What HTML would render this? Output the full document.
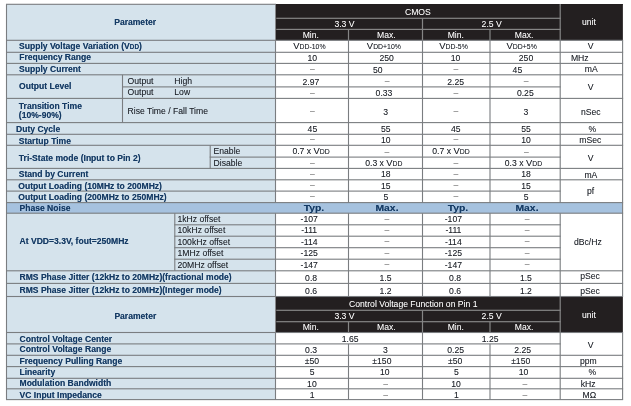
<!DOCTYPE html>
<html><head><meta charset="utf-8"><title>Spec table</title>
<style>
html,body{margin:0;padding:0;background:#fff;}
body{width:631px;height:406px;position:relative;overflow:hidden;font-family:"Liberation Sans",sans-serif;font-size:8.63px;color:#1f232a;text-shadow:0 0 0.5px rgba(30,34,42,0.38);}
.r{position:absolute;}
#tx{position:absolute;left:0;top:0;width:631px;height:406px;will-change:transform;}
.t{position:absolute;height:12px;line-height:12px;white-space:nowrap;}
.t span{line-height:1px;}
.c{text-align:center;width:240px;}
.b{font-weight:bold;font-size:8.57px;color:#143a64;text-shadow:0 0 0.6px rgba(20,58,100,0.55);}
.w{color:#fff;text-shadow:0 0 0.5px rgba(255,255,255,0.25);}
.d{color:#6e6e6e;text-shadow:none;}
.v{font-size:9.4px;}
.s{font-size:6.9px;}
.s2{font-size:6.4px;}
.big{font-size:9.6px;transform:scaleX(1.08);}
</style></head><body>
<svg class="r" style="left:0;top:0" width="631" height="406" viewBox="0 0 631 406">
<rect x="6.50" y="4.30" width="269.00" height="395.30" fill="#d5e3ec"/>
<rect x="275.50" y="4.00" width="347.10" height="36.30" fill="#231f20"/>
<rect x="275.50" y="296.50" width="347.10" height="36.00" fill="#231f20"/>
<rect x="6.50" y="202.60" width="616.10" height="10.60" fill="#a6c2df"/>
<rect x="276.30" y="17.70" width="284.40" height="1.2" fill="#858585"/>
<rect x="276.30" y="28.80" width="284.40" height="1.2" fill="#858585"/>
<rect x="559.60" y="4.30" width="1.2" height="36.00" fill="#858585"/>
<rect x="421.90" y="18.30" width="1.2" height="22.00" fill="#858585"/>
<rect x="347.90" y="29.40" width="1.2" height="10.90" fill="#858585"/>
<rect x="489.40" y="29.40" width="1.2" height="10.90" fill="#858585"/>
<rect x="276.30" y="309.70" width="284.40" height="1.2" fill="#858585"/>
<rect x="276.30" y="321.10" width="284.40" height="1.2" fill="#858585"/>
<rect x="559.60" y="296.50" width="1.2" height="36.00" fill="#858585"/>
<rect x="421.90" y="310.30" width="1.2" height="22.20" fill="#858585"/>
<rect x="347.90" y="321.70" width="1.2" height="10.80" fill="#858585"/>
<rect x="489.40" y="321.70" width="1.2" height="10.80" fill="#858585"/>
<rect x="6.00" y="3.75" width="270.00" height="1.1" fill="#7a7d80"/>
<rect x="6.00" y="399.05" width="617.10" height="1.1" fill="#7a7d80"/>
<rect x="5.95" y="4.30" width="1.1" height="395.30" fill="#7a7d80"/>
<rect x="622.05" y="40.30" width="1.1" height="256.20" fill="#7a7d80"/>
<rect x="622.05" y="332.50" width="1.1" height="67.10" fill="#7a7d80"/>
<rect x="274.95" y="40.30" width="1.1" height="162.30" fill="#7a7d80"/>
<rect x="274.95" y="213.20" width="1.1" height="83.30" fill="#7a7d80"/>
<rect x="274.95" y="332.50" width="1.1" height="67.10" fill="#7a7d80"/>
<rect x="6.00" y="39.75" width="617.10" height="1.1" fill="#7a7d80"/>
<rect x="6.00" y="51.75" width="617.10" height="1.1" fill="#7a7d80"/>
<rect x="6.00" y="62.85" width="617.10" height="1.1" fill="#7a7d80"/>
<rect x="6.00" y="74.25" width="617.10" height="1.1" fill="#7a7d80"/>
<rect x="6.00" y="97.85" width="617.10" height="1.1" fill="#7a7d80"/>
<rect x="6.00" y="122.05" width="617.10" height="1.1" fill="#7a7d80"/>
<rect x="6.00" y="133.75" width="617.10" height="1.1" fill="#7a7d80"/>
<rect x="6.00" y="144.75" width="617.10" height="1.1" fill="#7a7d80"/>
<rect x="6.00" y="167.85" width="617.10" height="1.1" fill="#7a7d80"/>
<rect x="6.00" y="179.25" width="617.10" height="1.1" fill="#7a7d80"/>
<rect x="6.00" y="202.05" width="617.10" height="1.1" fill="#7a7d80"/>
<rect x="6.00" y="212.65" width="617.10" height="1.1" fill="#7a7d80"/>
<rect x="6.00" y="270.25" width="617.10" height="1.1" fill="#7a7d80"/>
<rect x="6.00" y="282.85" width="617.10" height="1.1" fill="#7a7d80"/>
<rect x="6.00" y="295.95" width="617.10" height="1.1" fill="#7a7d80"/>
<rect x="6.00" y="331.95" width="617.10" height="1.1" fill="#7a7d80"/>
<rect x="6.00" y="354.75" width="617.10" height="1.1" fill="#7a7d80"/>
<rect x="6.00" y="366.05" width="617.10" height="1.1" fill="#7a7d80"/>
<rect x="6.00" y="377.75" width="617.10" height="1.1" fill="#7a7d80"/>
<rect x="6.00" y="388.25" width="617.10" height="1.1" fill="#7a7d80"/>
<rect x="122.00" y="86.35" width="438.70" height="1.1" fill="#7a7d80"/>
<rect x="209.70" y="156.55" width="351.00" height="1.1" fill="#7a7d80"/>
<rect x="6.00" y="190.55" width="554.70" height="1.1" fill="#7a7d80"/>
<rect x="174.30" y="224.25" width="386.40" height="1.1" fill="#7a7d80"/>
<rect x="174.30" y="235.65" width="386.40" height="1.1" fill="#7a7d80"/>
<rect x="174.30" y="247.15" width="386.40" height="1.1" fill="#7a7d80"/>
<rect x="174.30" y="258.65" width="386.40" height="1.1" fill="#7a7d80"/>
<rect x="6.00" y="343.35" width="554.70" height="1.1" fill="#7a7d80"/>
<rect x="347.95" y="40.30" width="1.1" height="162.30" fill="#7a7d80"/>
<rect x="347.95" y="213.20" width="1.1" height="83.30" fill="#7a7d80"/>
<rect x="421.95" y="40.30" width="1.1" height="162.30" fill="#7a7d80"/>
<rect x="421.95" y="213.20" width="1.1" height="83.30" fill="#7a7d80"/>
<rect x="489.45" y="40.30" width="1.1" height="162.30" fill="#7a7d80"/>
<rect x="489.45" y="213.20" width="1.1" height="83.30" fill="#7a7d80"/>
<rect x="559.65" y="40.30" width="1.1" height="162.30" fill="#7a7d80"/>
<rect x="559.65" y="213.20" width="1.1" height="83.30" fill="#7a7d80"/>
<rect x="421.95" y="332.50" width="1.1" height="67.10" fill="#7a7d80"/>
<rect x="559.65" y="332.50" width="1.1" height="67.10" fill="#7a7d80"/>
<rect x="347.95" y="343.90" width="1.1" height="55.70" fill="#7a7d80"/>
<rect x="489.45" y="343.90" width="1.1" height="55.70" fill="#7a7d80"/>
<rect x="276.05" y="4.00" width="346.65" height="0.90" fill="#231f20"/>
<rect x="622.00" y="4.00" width="0.70" height="35.80" fill="#231f20"/>
<rect x="559.60" y="4.00" width="1.2" height="1.30" fill="#858585"/>
<rect x="622.00" y="297.00" width="0.70" height="35.00" fill="#231f20"/>
<rect x="121.95" y="74.80" width="1.1" height="47.80" fill="#7a7d80"/>
<rect x="209.65" y="145.30" width="1.1" height="23.10" fill="#7a7d80"/>
<rect x="174.25" y="213.20" width="1.1" height="57.60" fill="#7a7d80"/>
</svg>
<div id="tx">
<div class="t b" style="left:114.20px;top:16.01px">Parameter</div>
<div class="t c w" style="left:297.90px;top:6.01px">CMOS</div>
<div class="t c w" style="left:224.50px;top:18.01px">3.3 V</div>
<div class="t c w" style="left:371.70px;top:18.01px">2.5 V</div>
<div class="t c w" style="left:190.80px;top:29.01px">Min.</div>
<div class="t c w" style="left:266.40px;top:29.01px">Max.</div>
<div class="t c w" style="left:335.80px;top:29.01px">Min.</div>
<div class="t c w" style="left:404.20px;top:29.01px">Max.</div>
<div class="t c w" style="left:468.90px;top:16.01px">unit</div>
<div class="t b" style="left:19.10px;top:40.01px">Supply Voltage Variation (V<span class="s2">DD</span>)</div>
<div class="t c " style="left:189.40px;top:40.01px"><span class="v">V</span><span class="s">DD-10%</span></div>
<div class="t c " style="left:263.90px;top:40.01px"><span class="v">V</span><span class="s">DD+10%</span></div>
<div class="t c " style="left:333.60px;top:40.01px"><span class="v">V</span><span class="s">DD-5%</span></div>
<div class="t c " style="left:401.70px;top:40.01px"><span class="v">V</span><span class="s">DD+5%</span></div>
<div class="t c " style="left:470.70px;top:40.01px">V</div>
<div class="t b" style="left:19.20px;top:51.01px">Frequency Range</div>
<div class="t c " style="left:192.20px;top:52.01px">10</div>
<div class="t c " style="left:266.70px;top:52.01px">250</div>
<div class="t c " style="left:335.60px;top:52.01px">10</div>
<div class="t c " style="left:406.00px;top:52.01px">250</div>
<div class="t c " style="left:459.80px;top:52.01px">MHz</div>
<div class="t b" style="left:19.10px;top:63.01px">Supply Current</div>
<div class="t c d" style="left:192.50px;top:63.01px">&#8211;</div>
<div class="t c " style="left:257.80px;top:64.01px">50</div>
<div class="t c d" style="left:335.80px;top:63.01px">&#8211;</div>
<div class="t c " style="left:397.40px;top:64.01px">45</div>
<div class="t c " style="left:471.20px;top:63.01px">mA</div>
<div class="t b" style="left:19.10px;top:80.01px">Output Level</div>
<div class="t " style="left:127.50px;top:75.01px">Output</div>
<div class="t " style="left:174.30px;top:75.01px">High</div>
<div class="t " style="left:127.50px;top:86.01px">Output</div>
<div class="t " style="left:174.30px;top:86.01px">Low</div>
<div class="t c " style="left:190.90px;top:76.01px">2.97</div>
<div class="t c d" style="left:267.20px;top:75.01px">&#8211;</div>
<div class="t c " style="left:335.70px;top:76.01px">2.25</div>
<div class="t c d" style="left:406.20px;top:75.01px">&#8211;</div>
<div class="t c d" style="left:192.50px;top:87.01px">&#8211;</div>
<div class="t c " style="left:264.00px;top:87.01px">0.33</div>
<div class="t c d" style="left:335.80px;top:87.01px">&#8211;</div>
<div class="t c " style="left:405.30px;top:87.01px">0.25</div>
<div class="t c " style="left:470.70px;top:81.01px">V</div>
<div class="t b" style="left:18.80px;top:100.01px">Transition Time</div>
<div class="t b" style="left:18.80px;top:109.01px">(10%-90%)</div>
<div class="t " style="left:127.50px;top:105.01px">Rise Time / Fall Time</div>
<div class="t c d" style="left:192.30px;top:105.01px">&#8211;</div>
<div class="t c " style="left:265.70px;top:106.01px">3</div>
<div class="t c d" style="left:335.80px;top:105.01px">&#8211;</div>
<div class="t c " style="left:405.90px;top:106.01px">3</div>
<div class="t c " style="left:470.80px;top:106.01px">nSec</div>
<div class="t b" style="left:16.00px;top:123.01px">Duty Cycle</div>
<div class="t c " style="left:192.40px;top:123.01px">45</div>
<div class="t c " style="left:265.70px;top:123.01px">55</div>
<div class="t c " style="left:335.70px;top:123.01px">45</div>
<div class="t c " style="left:406.00px;top:123.01px">55</div>
<div class="t c " style="left:472.40px;top:123.01px">%</div>
<div class="t b" style="left:18.80px;top:135.01px">Startup Time</div>
<div class="t c d" style="left:192.30px;top:133.01px">&#8211;</div>
<div class="t c " style="left:265.70px;top:134.01px">10</div>
<div class="t c d" style="left:335.80px;top:133.01px">&#8211;</div>
<div class="t c " style="left:406.00px;top:134.01px">10</div>
<div class="t c " style="left:470.30px;top:134.01px">mSec</div>
<div class="t b" style="left:18.80px;top:152.01px">Tri-State mode (Input to Pin 2)</div>
<div class="t " style="left:213.50px;top:145.01px">Enable</div>
<div class="t " style="left:213.50px;top:157.01px">Disable</div>
<div class="t c " style="left:191.10px;top:145.01px">0.7 x <span class="v">V</span><span class="s">DD</span></div>
<div class="t c d" style="left:266.90px;top:146.01px">&#8211;</div>
<div class="t c " style="left:331.00px;top:145.01px">0.7 x <span class="v">V</span><span class="s">DD</span></div>
<div class="t c d" style="left:406.40px;top:146.01px">&#8211;</div>
<div class="t c d" style="left:192.30px;top:157.01px">&#8211;</div>
<div class="t c " style="left:263.90px;top:157.01px">0.3 x <span class="v">V</span><span class="s">DD</span></div>
<div class="t c d" style="left:335.80px;top:157.01px">&#8211;</div>
<div class="t c " style="left:403.50px;top:157.01px">0.3 x <span class="v">V</span><span class="s">DD</span></div>
<div class="t c " style="left:470.60px;top:152.01px">V</div>
<div class="t b" style="left:18.80px;top:168.01px">Stand by Current</div>
<div class="t c d" style="left:192.30px;top:168.01px">&#8211;</div>
<div class="t c " style="left:265.70px;top:168.01px">18</div>
<div class="t c d" style="left:335.80px;top:168.01px">&#8211;</div>
<div class="t c " style="left:406.00px;top:168.01px">18</div>
<div class="t c " style="left:470.90px;top:169.01px">mA</div>
<div class="t b" style="left:18.30px;top:180.01px">Output Loading (10MHz to 200MHz)</div>
<div class="t c d" style="left:192.30px;top:179.01px">&#8211;</div>
<div class="t c " style="left:265.70px;top:180.01px">15</div>
<div class="t c d" style="left:335.80px;top:179.01px">&#8211;</div>
<div class="t c " style="left:406.00px;top:180.01px">15</div>
<div class="t b" style="left:18.30px;top:191.01px">Output Loading (200MHz to 250MHz)</div>
<div class="t c d" style="left:192.30px;top:190.01px">&#8211;</div>
<div class="t c " style="left:265.90px;top:191.01px">5</div>
<div class="t c d" style="left:335.80px;top:190.01px">&#8211;</div>
<div class="t c " style="left:406.20px;top:191.01px">5</div>
<div class="t c " style="left:470.60px;top:185.01px">pf</div>
<div class="t b" style="left:19.50px;top:202.01px">Phase Noise</div>
<div class="t c b big" style="left:193.60px;top:201.67px">Typ.</div>
<div class="t c b big" style="left:266.80px;top:201.67px">Max.</div>
<div class="t c b big" style="left:337.60px;top:201.67px">Typ.</div>
<div class="t c b big" style="left:406.50px;top:201.67px">Max.</div>
<div class="t b" style="left:19.50px;top:235.01px">At VDD=3.3V, fout=250MHz</div>
<div class="t " style="left:177.50px;top:213.01px">1kHz offset</div>
<div class="t c " style="left:189.20px;top:213.01px">-107</div>
<div class="t c d" style="left:266.90px;top:213.01px">&#8211;</div>
<div class="t c " style="left:333.40px;top:213.01px">-107</div>
<div class="t c d" style="left:407.20px;top:213.01px">&#8211;</div>
<div class="t " style="left:177.50px;top:224.01px">10kHz offset</div>
<div class="t c " style="left:189.20px;top:224.01px">-111</div>
<div class="t c d" style="left:266.90px;top:224.01px">&#8211;</div>
<div class="t c " style="left:333.40px;top:224.01px">-111</div>
<div class="t c d" style="left:407.20px;top:224.01px">&#8211;</div>
<div class="t " style="left:177.50px;top:236.01px">100kHz offset</div>
<div class="t c " style="left:189.20px;top:236.01px">-114</div>
<div class="t c d" style="left:266.90px;top:235.01px">&#8211;</div>
<div class="t c " style="left:333.40px;top:236.01px">-114</div>
<div class="t c d" style="left:407.20px;top:235.01px">&#8211;</div>
<div class="t " style="left:177.50px;top:247.01px">1MHz offset</div>
<div class="t c " style="left:189.20px;top:247.01px">-125</div>
<div class="t c d" style="left:266.90px;top:247.01px">&#8211;</div>
<div class="t c " style="left:333.40px;top:247.01px">-125</div>
<div class="t c d" style="left:407.20px;top:247.01px">&#8211;</div>
<div class="t " style="left:177.50px;top:259.01px">20MHz offset</div>
<div class="t c " style="left:189.20px;top:259.01px">-147</div>
<div class="t c d" style="left:266.90px;top:258.01px">&#8211;</div>
<div class="t c " style="left:333.40px;top:259.01px">-147</div>
<div class="t c d" style="left:407.20px;top:258.01px">&#8211;</div>
<div class="t c " style="left:467.90px;top:236.01px">dBc/Hz</div>
<div class="t b" style="left:19.50px;top:271.01px">RMS Phase Jitter (12kHz to 20MHz)(fractional mode)</div>
<div class="t c " style="left:191.10px;top:272.01px">0.8</div>
<div class="t c " style="left:265.50px;top:272.01px">1.5</div>
<div class="t c " style="left:335.10px;top:272.01px">0.8</div>
<div class="t c " style="left:405.90px;top:272.01px">1.5</div>
<div class="t c " style="left:470.10px;top:270.01px">pSec</div>
<div class="t b" style="left:19.50px;top:284.01px">RMS Phase Jitter (12kHz to 20MHz)(Integer mode)</div>
<div class="t c " style="left:191.10px;top:285.01px">0.6</div>
<div class="t c " style="left:265.50px;top:285.01px">1.2</div>
<div class="t c " style="left:335.10px;top:285.01px">0.6</div>
<div class="t c " style="left:405.90px;top:285.01px">1.2</div>
<div class="t c " style="left:470.10px;top:285.01px">pSec</div>
<div class="t b" style="left:114.40px;top:310.01px">Parameter</div>
<div class="t c w" style="left:293.25px;top:298.01px">Control Voltage Function on Pin 1</div>
<div class="t c w" style="left:224.50px;top:310.01px">3.3 V</div>
<div class="t c w" style="left:371.70px;top:310.01px">2.5 V</div>
<div class="t c w" style="left:190.80px;top:321.01px">Min.</div>
<div class="t c w" style="left:266.40px;top:321.01px">Max.</div>
<div class="t c w" style="left:335.80px;top:321.01px">Min.</div>
<div class="t c w" style="left:404.20px;top:321.01px">Max.</div>
<div class="t c w" style="left:468.90px;top:309.01px">unit</div>
<div class="t b" style="left:19.50px;top:333.01px">Control Voltage Center</div>
<div class="t c " style="left:230.10px;top:333.01px">1.65</div>
<div class="t c " style="left:370.20px;top:333.01px">1.25</div>
<div class="t b" style="left:19.50px;top:343.01px">Control Voltage Range</div>
<div class="t c " style="left:191.10px;top:344.01px">0.3</div>
<div class="t c " style="left:265.40px;top:344.01px">3</div>
<div class="t c " style="left:335.70px;top:344.01px">0.25</div>
<div class="t c " style="left:402.70px;top:344.01px">2.25</div>
<div class="t c " style="left:470.70px;top:339.01px">V</div>
<div class="t b" style="left:19.50px;top:355.01px">Frequency Pulling Range</div>
<div class="t c " style="left:191.90px;top:355.01px">&#177;50</div>
<div class="t c " style="left:261.90px;top:355.01px">&#177;150</div>
<div class="t c " style="left:335.20px;top:355.01px">&#177;50</div>
<div class="t c " style="left:400.70px;top:355.01px">&#177;150</div>
<div class="t c " style="left:468.40px;top:355.01px">ppm</div>
<div class="t b" style="left:19.50px;top:366.01px">Linearity</div>
<div class="t c " style="left:192.10px;top:366.01px">5</div>
<div class="t c " style="left:264.70px;top:366.01px">10</div>
<div class="t c " style="left:336.30px;top:366.01px">5</div>
<div class="t c " style="left:403.50px;top:366.01px">10</div>
<div class="t c " style="left:472.40px;top:366.01px">%</div>
<div class="t b" style="left:19.50px;top:377.01px">Modulation Bandwidth</div>
<div class="t c " style="left:191.90px;top:378.01px">10</div>
<div class="t c d" style="left:265.70px;top:378.01px">&#8211;</div>
<div class="t c " style="left:336.10px;top:378.01px">10</div>
<div class="t c d" style="left:404.90px;top:378.01px">&#8211;</div>
<div class="t c " style="left:468.20px;top:378.01px">kHz</div>
<div class="t b" style="left:19.50px;top:389.01px">VC Input Impedance</div>
<div class="t c " style="left:192.10px;top:389.01px">1</div>
<div class="t c d" style="left:265.70px;top:389.01px">&#8211;</div>
<div class="t c " style="left:336.30px;top:389.01px">1</div>
<div class="t c d" style="left:404.90px;top:389.01px">&#8211;</div>
<div class="t c " style="left:469.40px;top:389.01px">M&#937;</div>
</div>
</body></html>
